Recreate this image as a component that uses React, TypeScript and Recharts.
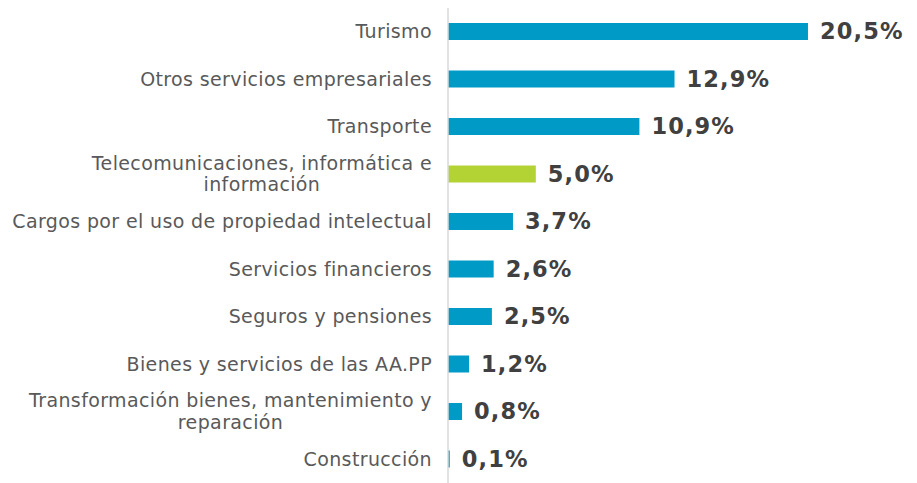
import React from "react";
import { BarChart, Bar, XAxis, YAxis, Cell, LabelList } from "recharts";

const categories = [
  "Turismo",
  "Otros servicios empresariales",
  "Transporte",
  "Telecomunicaciones, informática e información",
  "Cargos por el uso de propiedad intelectual",
  "Servicios financieros",
  "Seguros y pensiones",
  "Bienes y servicios de las AA.PP",
  "Transformación bienes, mantenimiento y reparación",
  "Construcción",
];
const values = [20.5, 12.9, 10.9, 5.0, 3.7, 2.6, 2.5, 1.2, 0.8, 0.1];
const highlighted = ["Telecomunicaciones, informática e información"];

const data = categories.map((name, i) => ({ name, value: values[i] }));

const FONT = "'DejaVu Sans', Verdana, sans-serif";
const TICK_SIZE = 19;
const TICK_LS = 0.37;
const LINE_H = 21.5;
const MAX_W = 430;

let ctx: CanvasRenderingContext2D | null = null;
function measure(t: string): number {
  if (!ctx) {
    const c = document.createElement("canvas");
    ctx = c.getContext("2d");
  }
  const base = ctx
    ? ((ctx.font = `${TICK_SIZE}px 'DejaVu Sans'`), ctx.measureText(t).width)
    : t.length * TICK_SIZE * 0.55;
  return base + t.length * TICK_LS;
}

function wrap(text: string): string[] {
  const words = text.split(" ");
  const lines: string[] = [];
  let cur = "";
  for (const w of words) {
    const next = cur ? cur + " " + w : w;
    if (measure(next) > MAX_W && cur) {
      lines.push(cur);
      cur = w;
    } else cur = next;
  }
  if (cur) lines.push(cur);
  return lines;
}

const CategoryTick = (props: any) => {
  const { x, y, payload } = props;
  const lines = wrap(String(payload.value));
  const widths = lines.map(measure);
  const maxW = Math.max(...widths);
  const cx = x - maxW / 2;
  const n = lines.length;
  return (
    <g>
      {lines.map((l, i) => (
        <text
          key={i}
          x={cx}
          y={y + (i - (n - 1) / 2) * LINE_H}
          dy={TICK_SIZE * 0.34}
          textAnchor="middle"
          fontFamily={FONT}
          fontSize={TICK_SIZE}
          letterSpacing={TICK_LS}
          fill="#595959"
        >
          {l}
        </text>
      ))}
    </g>
  );
};

const fmt = (v: any) => Number(v).toFixed(1).replace(".", ",") + "%";

export default function App() {
  return (
    <BarChart
      width={900}
      height={475}
      data={data}
      layout="vertical"
      margin={{ top: 0, right: 21, bottom: 0, left: 0 }}
    >
      <XAxis type="number" domain={[0, 25]} hide />
      <YAxis
        type="category"
        dataKey="name"
        width={440}
        axisLine={{ stroke: "#D9D9D9", strokeWidth: 1.5 }}
        tickLine={false}
        tickSize={16}
        tickMargin={0}
        tick={<CategoryTick />}
        interval={0}
      />
      <Bar dataKey="value" barSize={17} isAnimationActive={false}>
        {data.map((d) => (
          <Cell
            key={d.name}
            fill={highlighted.includes(d.name) ? "#B3D234" : "#009AC7"}
          />
        ))}
        <LabelList
          dataKey="value"
          position="right"
          offset={12}
          formatter={fmt}
          fontFamily={FONT}
          fontSize={22.5}
          letterSpacing={1.1}
          fontWeight="bold"
          fill="#404040"
        />
      </Bar>
    </BarChart>
  );
}
